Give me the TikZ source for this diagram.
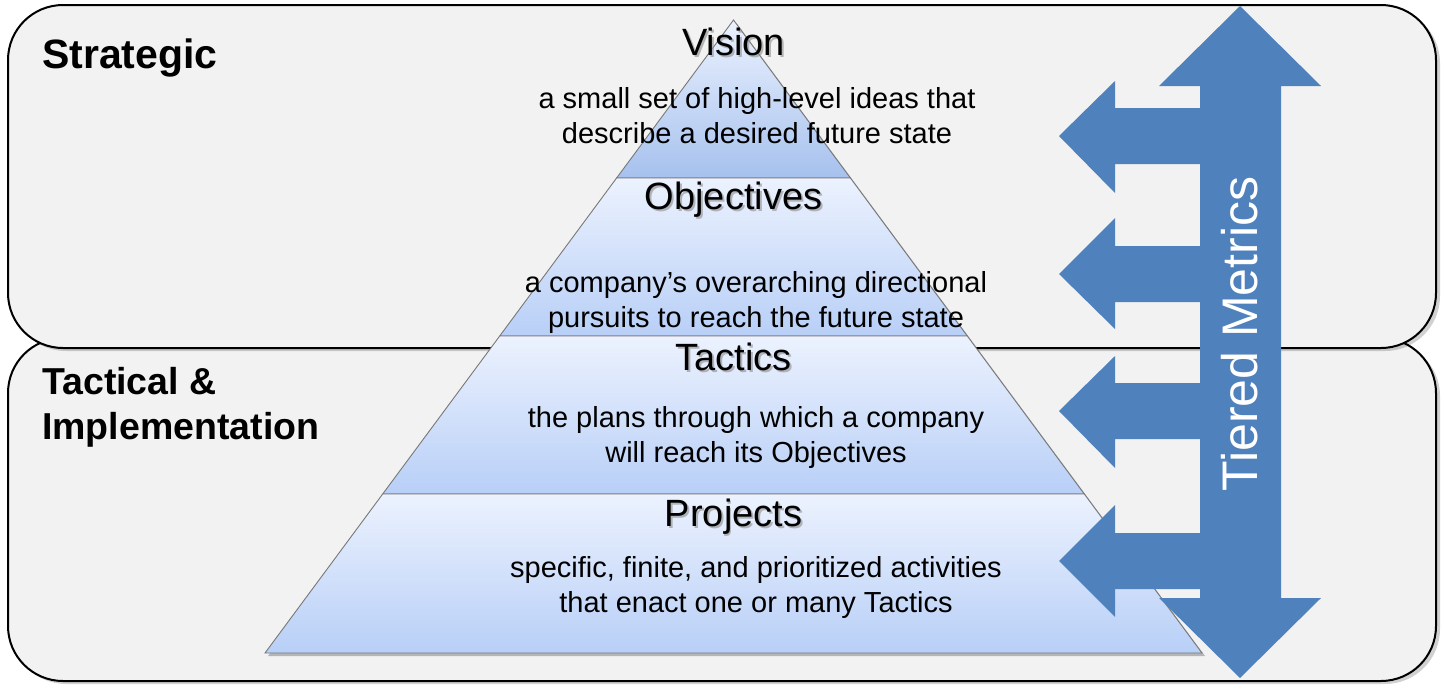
\documentclass[tikz,border=0pt]{standalone}
\usepackage{fontspec}
\setmainfont{Liberation Sans}
\definecolor{panelgray}{RGB}{242,242,242}
\definecolor{arrowblue}{RGB}{79,129,189}
\definecolor{bandtop}{RGB}{236,242,254}
\definecolor{bandbot}{RGB}{184,207,247}
\definecolor{visbot}{RGB}{166,193,238}
\definecolor{pyrline}{RGB}{120,120,120}
\begin{document}
\begin{tikzpicture}[x=1pt,y=-1pt,
  panel/.style={draw=black, line width=2pt, fill=panelgray, rounded corners=55pt},
  panelshadow/.style={fill=black, opacity=0.18, rounded corners=55pt},
  band/.style={draw=pyrline, line width=0.9pt, top color=bandtop, bottom color=bandbot},
  ttl/.style={font=\fontsize{38}{40}\selectfont, text=black, inner sep=0pt},
  ttlshadow/.style={font=\fontsize{38}{40}\selectfont, text=black!45, opacity=0.6, inner sep=0pt},
  desc/.style={font=\fontsize{29}{35}\selectfont, align=center, inner sep=0pt},
  side/.style={font=\bfseries, anchor=west, align=left, inner sep=0pt},
  arr/.style={fill=arrowblue, draw=none}]
\useasboundingbox (0,0) rectangle (1444,691);
% panels
\fill[panelshadow] (11,341) rectangle (1440,684);
\draw[panel] (8,338) rectangle (1436,681);
\fill[panelshadow] (11,8) rectangle (1440,351);
\draw[panel] (8,5) rectangle (1436,348);
% side labels
\node[side, font=\bfseries\fontsize{41}{44}\selectfont] (strat) at (42,58) {Strategic};
\node[side, font=\bfseries\fontsize{37.5}{45}\selectfont] (tact) at (42,407) {Tactical \&\\Implementation};
% pyramid shadow
\fill[black, opacity=0.25] (736.5,23) -- (1205,656) -- (268,656) -- cycle;
% pyramid bands
\draw[band, bottom color=visbot] (733.5,20) -- (850.4,178) -- (616.6,178) -- cycle;
\draw[band] (616.6,178) -- (850.4,178) -- (967.3,336) -- (499.7,336) -- cycle;
\draw[band] (499.7,336) -- (967.3,336) -- (1084.3,494) -- (382.7,494) -- cycle;
\draw[band] (382.7,494) -- (1084.3,494) -- (1202,653) -- (265,653) -- cycle;
% titles
\node[ttlshadow] at (735.5,44) {Vision};
\node[ttl] (vision) at (733.5,42) {Vision};
\node[ttlshadow] at (735.5,202) {Objectives};
\node[ttl] (obj) at (733.5,200) {Objectives};
\node[ttlshadow] at (735.5,359) {Tactics};
\node[ttl] (tac) at (733.5,357) {Tactics};
\node[ttlshadow] at (735.5,519) {Projects};
\node[ttl] (proj) at (733.5,517) {Projects};
% descriptions
\node[desc] (visd) at (757,116) {a small set of high-level ideas that\\describe a desired future state};
\node[desc] (objd) at (756,302) {a company’s overarching directional\\pursuits to reach the future state};
\node[desc] (tacd) at (756,437) {the plans through which a company\\will reach its Objectives};
\node[desc] (projd) at (756,587) {specific, finite, and prioritized activities\\that enact one or many Tactics};
% tiered metrics arrow
\fill[arr] (1240,6) -- (1321,86) -- (1281,86) -- (1281,598) -- (1321,598) -- (1240,678)
  -- (1159,598) -- (1200,598) -- (1200,86) -- (1159,86) -- cycle;
\foreach \s/\t/\h/\b/\m in {108/164/81/193/136, 246/302/218/329/274, 383/439/356/468/411, 533/589/505/617/561}{
  \fill[arr] (1201,\s) -- (1115,\s) -- (1115,\h) -- (1059,\m) -- (1115,\b) -- (1115,\t) -- (1201,\t) -- cycle;
}
\node[rotate=90, text=white, font=\fontsize{50}{54}\selectfont, inner sep=0pt] (tm) at (1240,334) {Tiered Metrics};
\end{tikzpicture}
\end{document}
